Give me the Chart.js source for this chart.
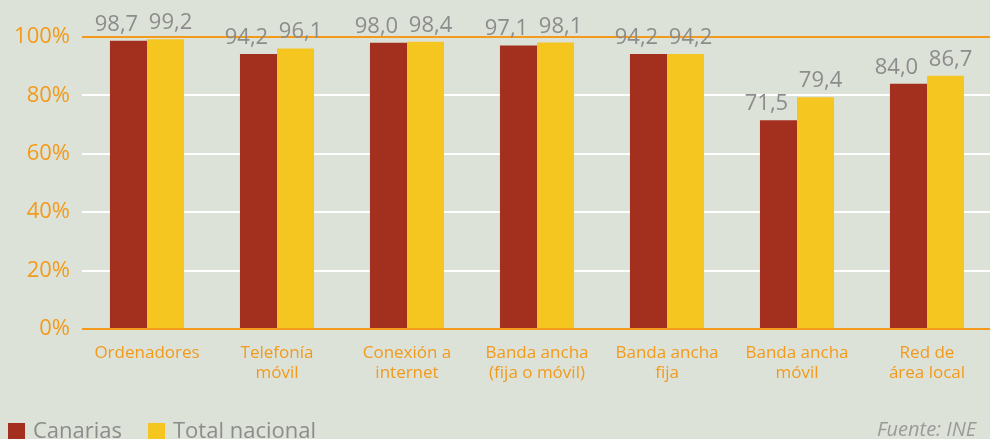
<!DOCTYPE html>
<html>
<head>
<meta charset="utf-8">
<script src="https://cdn.jsdelivr.net/npm/chart.js@4.4.0/dist/chart.umd.min.js"></script>
<style>
    body { margin: 0; background: #dde2d8; overflow: hidden; width: 990px; height: 439px; position: relative; font-family: "Open Sans", sans-serif; }
    #wrap { position: absolute; left: 0; top: 0; width: 1000px; height: 439px; }
    .legend { position: absolute; top: 416px; color: #8c8c8c; font-size: 22px; line-height: 26px; white-space: nowrap; }
    .legend span.box { display: inline-block; width: 17px; height: 18px; vertical-align: -3px; margin-right: 8px; }
    #source { position: absolute; top: 416px; left: 877px; color: #9a9a9a; font-size: 20px; line-height: 26px; font-style: italic; white-space: nowrap; }
</style>
</head>
<body>
<div id="wrap"><canvas id="chart"></canvas></div>
<div class="legend" style="left:8px"><span class="box" style="background:#a3301f"></span>Canarias</div>
<div class="legend" style="left:148px"><span class="box" style="background:#f5c520"></span>Total nacional</div>
<div id="source">Fuente: INE</div>
<script>
// Data
const categories = [
    'Ordenadores',
    ['Telefonía', 'móvil'],
    ['Conexión a', 'internet'],
    ['Banda ancha', '(fija o móvil)'],
    ['Banda ancha', 'fija'],
    ['Banda ancha', 'móvil'],
    ['Red de', 'área local']
];
const canarias = [98.7, 94.2, 98.0, 97.1, 94.2, 71.5, 84.0];
const totalNacional = [99.2, 96.1, 98.4, 98.1, 94.2, 79.4, 86.7];
const yTicks = [0, 20, 40, 60, 80, 100];

const orange = '#f29a1b';
const gray = '#8c8c8c';

// Value labels above the bars (red ones pushed left, yellow ones right)
const valueLabels = {
    id: 'valueLabels',
    afterDatasetsDraw(chart) {
        const c = chart.ctx;
        c.save();
        c.font = '22px "Open Sans"';
        c.fillStyle = gray;
        c.textAlign = 'center';
        c.textBaseline = 'alphabetic';
        chart.data.datasets.forEach((ds, i) => {
            const meta = chart.getDatasetMeta(i);
            const shift = i === 0 ? -12 : 5;
            meta.data.forEach((bar, j) => {
                c.fillText(ds.data[j].toFixed(1).replace('.', ','), bar.x + shift, bar.y - 10);
            });
        });
        c.restore();
    }
};

const ctx = document.getElementById('chart').getContext('2d');
new Chart(ctx, {
    type: 'bar',
    data: {
        labels: categories,
        datasets: [
            { label: 'Canarias', data: canarias, backgroundColor: '#a3301f' },
            { label: 'Total nacional', data: totalNacional, backgroundColor: '#f5c520' }
        ]
    },
    options: {
        responsive: true,
        maintainAspectRatio: false,
        animation: false,
        layout: { padding: { top: 37, right: 8, left: 0, bottom: 0 } },
        datasets: { bar: { categoryPercentage: 0.57, barPercentage: 1.0 } },
        plugins: { legend: { display: false }, tooltip: { enabled: false } },
        scales: {
            x: {
                grid: { display: false },
                border: { display: false },
                ticks: { color: orange, font: { family: 'Open Sans', size: 17 }, padding: 6, maxRotation: 0, autoSkip: false },
                afterFit(scale) { scale.height = 110; }
            },
            y: {
                min: 0,
                max: 100,
                afterBuildTicks(scale) { scale.ticks = yTicks.map(v => ({ value: v })); },
                grid: {
                    drawTicks: false,
                    lineWidth: 2,
                    color: c => (c.tick && (c.tick.value === 0 || c.tick.value === 100)) ? orange : '#ffffff'
                },
                border: { display: false },
                ticks: { color: orange, font: { family: 'Open Sans', size: 22 }, padding: 12, callback: v => v + '%' },
                afterFit(scale) { scale.width = 82; }
            }
        }
    },
    plugins: [valueLabels]
});
</script>
</body>
</html>
